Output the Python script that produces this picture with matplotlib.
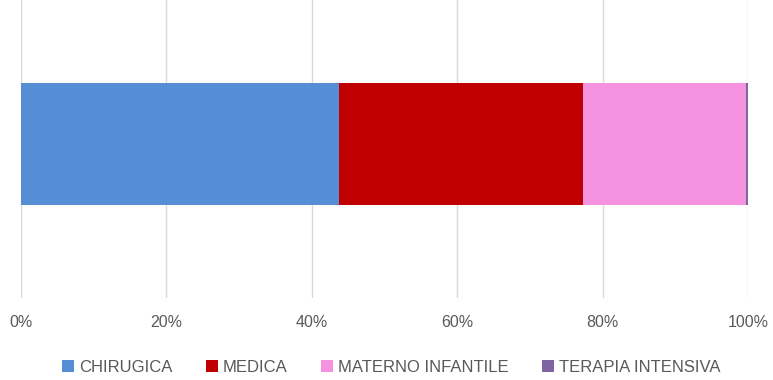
import matplotlib.pyplot as plt
from matplotlib.patches import Patch

# Data (share of total, %)
categories = ["CHIRUGICA", "MEDICA", "MATERNO INFANTILE", "TERAPIA INTENSIVA"]
values = [43.8, 33.5, 22.4, 0.3]
colors = ["#558ED5", "#C00000", "#F593E1", "#8064A2"]
tick_values = [0, 20, 40, 60, 80, 100]
tick_labels = ["0%", "20%", "40%", "60%", "80%", "100%"]

FONT = ["Liberation Sans", "DejaVu Sans"]
TEXT_COLOR = "#595959"

fig = plt.figure(figsize=(7.73, 3.80), dpi=100)
ax = fig.add_axes([21 / 773, 82 / 380, 727 / 773, 298 / 380])

left = 0
for cat, val, col in zip(categories, values, colors):
    ax.barh(0, val, left=left, height=0.8, color=col, label=cat, zorder=2)
    left += val

ax.set_xlim(0, 100)
ax.set_ylim(-1.012, 0.942)
ax.set_xticks(tick_values)
ax.set_xticklabels(tick_labels, family=FONT, fontsize=11.5, color=TEXT_COLOR)
ax.tick_params(axis="x", length=0, pad=12.5)
ax.set_yticks([])
ax.grid(axis="x", color="#D9D9D9", linewidth=1, zorder=0)
for spine in ax.spines.values():
    spine.set_visible(False)

handles = [Patch(facecolor=c, edgecolor="none") for c in colors]
fig.legend(
    handles,
    categories,
    loc="center",
    bbox_to_anchor=(391 / 773, 1 - 367 / 380),
    ncol=4,
    frameon=False,
    handlelength=0.72,
    handleheight=0.72,
    handletextpad=0.3,
    columnspacing=2.0,
    prop={"family": FONT, "size": 12},
    labelcolor=TEXT_COLOR,
)

fig.savefig("out.png", dpi=100)
